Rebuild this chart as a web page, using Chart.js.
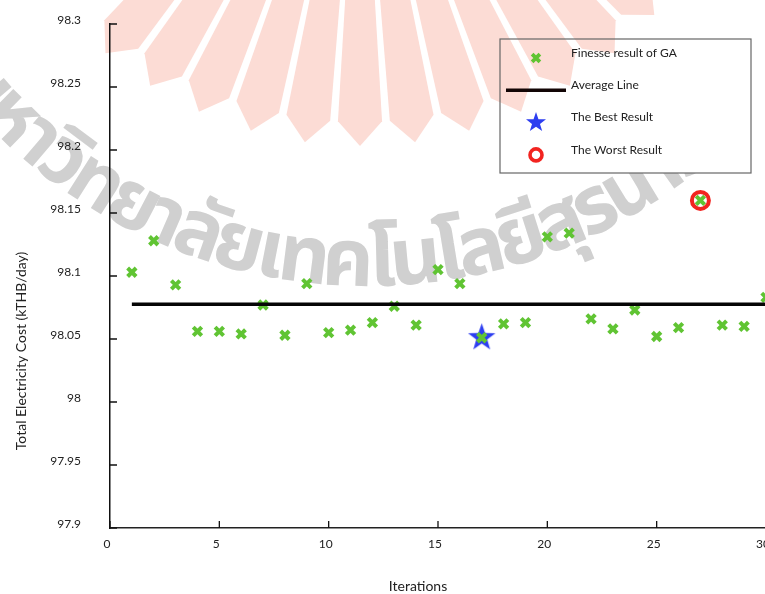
<!DOCTYPE html>
<html lang="en">
  <head>
    <meta charset="UTF-8" />
    <meta name="viewport" content="width=device-width, initial-scale=1.0" />
    <script src="https://cdn.jsdelivr.net/npm/chart.js@4.4.1/dist/chart.umd.min.js"></script>
    <title>GA cost per iteration</title>
    <style>
      html, body { margin: 0; padding: 0; overflow: hidden; background: #fff; }
      canvas { display: block; }
    </style>
  </head>
  <body>
    <canvas id="myChart" width="800" height="594"></canvas>
    <script>
      const iterations = [1, 2, 3, 4, 5, 6, 7, 8, 9, 10, 11, 12, 13, 14, 15,
        16, 17, 18, 19, 20, 21, 22, 23, 24, 25, 26, 27, 28, 29, 30];
      const costGA = [98.103, 98.128, 98.093, 98.056, 98.056, 98.054, 98.077, 98.053, 98.094, 98.055,
        98.057, 98.063, 98.076, 98.061, 98.105, 98.094, 98.051, 98.062, 98.063, 98.131,
        98.134, 98.066, 98.058, 98.073, 98.052, 98.059, 98.160, 98.061, 98.060, 98.083];
      const averageCost = 98.0776;
      const xTicks = [0, 5, 10, 15, 20, 25, 30];
      const yTicks = [97.9, 97.95, 98, 98.05, 98.1, 98.15, 98.2, 98.25, 98.3];
      const legendLabels = ["Finesse result of GA", "Average Line", "The Best Result", "The Worst Result"];
      const xTitle = "Iterations";
      const yTitle = "Total Electricity Cost (kTHB/day)";
      const watermarkText = "มหาวิทยาลัยเทคโนโลยีสุรนารี";

      const bestIdx = costGA.indexOf(Math.min(...costGA));
      const worstIdx = costGA.indexOf(Math.max(...costGA));

      const green = "#60c433";
      const blue = "#2d3ef0";
      const red = "#f22420";
      const ink = "#222";

      Chart.defaults.font.family = "Lato";
      Chart.defaults.font.size = 12;
      Chart.defaults.color = ink;

      function starPath(ctx, x, y, outer, inner) {
        ctx.beginPath();
        for (let i = 0; i < 10; i++) {
          const r = i % 2 ? inner : outer;
          const a = -Math.PI / 2 + (i * Math.PI) / 5;
          ctx.lineTo(x + r * Math.cos(a), y + r * Math.sin(a));
        }
        ctx.closePath();
      }

      function makeStar(outer) {
        const c = document.createElement("canvas");
        c.width = c.height = Math.ceil(outer * 2 + 2);
        const g = c.getContext("2d");
        g.fillStyle = blue;
        starPath(g, c.width / 2, c.height / 2, outer, outer * 0.4);
        g.fill();
        return c;
      }

      function drawCross(ctx, x, y, r) {
        const o = r * Math.SQRT1_2;
        ctx.beginPath();
        ctx.moveTo(x - o, y - o); ctx.lineTo(x + o, y + o);
        ctx.moveTo(x - o, y + o); ctx.lineTo(x + o, y - o);
        ctx.stroke();
      }

      // faint logo petals of the watermark
      function drawPetals(ctx) {
        const cx = 360, cy = -250;
        const pt = (r, a) => [cx + r * Math.sin(a), cy + r * Math.cos(a)];
        ctx.save();
        ctx.fillStyle = "#fcdcd5";
        for (let k = 0; k < 12; k++) {
          const a = ((-40 + 8 * k) * Math.PI) / 180;
          const h = (3.4 * Math.PI) / 180;
          const p = [pt(150, a - h), pt(372, a - h), pt(396, a), pt(372, a + h), pt(150, a + h)];
          ctx.beginPath();
          p.forEach(([x, y]) => ctx.lineTo(x, y));
          ctx.closePath();
          ctx.fill();
        }
        ctx.restore();
      }

      function drawWatermark(ctx) {
        const cx = 368, cy = -244, R = 530;
        ctx.save();
        ctx.fillStyle = "#d0d0d0";
        ctx.font = 'bold 80px "Noto Sans Thai", "Noto Sans", sans-serif';
        ctx.textBaseline = "alphabetic";
        const parts = window.Intl && Intl.Segmenter
          ? [...new Intl.Segmenter("th", { granularity: "grapheme" }).segment(watermarkText)].map((s) => s.segment)
          : Array.from(watermarkText);
        const widths = parts.map((s) => ctx.measureText(s).width);
        const total = widths.reduce((a, b) => a + b, 0);
        const span = (93 * Math.PI) / 180;
        const k = (span * R) / total;
        let theta = (-52 * Math.PI) / 180;
        parts.forEach((s, i) => {
          const step = (widths[i] * k) / R;
          const mid = theta + step / 2;
          ctx.save();
          ctx.translate(cx + R * Math.sin(mid), cy + R * Math.cos(mid));
          ctx.rotate(-mid);
          ctx.fillText(s, -widths[i] / 2, 0);
          ctx.restore();
          theta += step;
        });
        ctx.restore();
      }

      const decor = {
        id: "decor",
        beforeDraw(chart) {
          const ctx = chart.ctx;
          ctx.save();
          ctx.fillStyle = "#fff";
          ctx.fillRect(0, 0, chart.width, chart.height);
          ctx.restore();
          drawPetals(ctx);
          drawWatermark(ctx);
        },
        afterDraw(chart) {
          const ctx = chart.ctx;
          const { left, top, right, bottom } = chart.chartArea;
          const xs = chart.scales.x, ys = chart.scales.y;

          // tick marks point into the plot
          ctx.save();
          ctx.strokeStyle = "#111";
          ctx.lineWidth = 1.3;
          ctx.beginPath();
          ys.ticks.forEach((t) => {
            const py = ys.getPixelForValue(t.value);
            ctx.moveTo(left, py); ctx.lineTo(left + 7, py);
          });
          xs.ticks.forEach((t) => {
            const px = xs.getPixelForValue(t.value);
            ctx.moveTo(px, bottom); ctx.lineTo(px, bottom - 7);
          });
          ctx.stroke();

          // axis titles
          ctx.fillStyle = ink;
          ctx.font = "14px Lato";
          ctx.textAlign = "center";
          ctx.textBaseline = "middle";
          ctx.fillText(xTitle, left + 308, bottom + 58);
          ctx.translate(21, top + 327);
          ctx.rotate(-Math.PI / 2);
          ctx.fillText(yTitle, 0, 0);
          ctx.restore();

          // legend box
          const lg = { x: right - 266, y: top + 15, w: 251, h: 134 };
          ctx.save();
          ctx.fillStyle = "#fff";
          ctx.fillRect(lg.x, lg.y, lg.w, lg.h);
          ctx.beginPath();
          ctx.rect(lg.x, lg.y, lg.w, lg.h);
          ctx.clip();
          drawPetals(ctx);
          ctx.restore();

          ctx.save();
          ctx.strokeStyle = "#666";
          ctx.lineWidth = 1.2;
          ctx.strokeRect(lg.x, lg.y, lg.w, lg.h);
          ctx.font = "12px Lato";
          ctx.textBaseline = "middle";
          const mx = lg.x + 36;
          legendLabels.forEach((label, i) => {
            const ty = lg.y + 14 + i * 32.3;
            const my = ty + 5;
            ctx.fillStyle = ink;
            ctx.fillText(label, lg.x + 71, ty);
            if (i === 0) {
              ctx.strokeStyle = green; ctx.lineWidth = 3.8;
              drawCross(ctx, mx, my, 5.5);
            } else if (i === 1) {
              ctx.strokeStyle = "#120505"; ctx.lineWidth = 3.6;
              ctx.beginPath(); ctx.moveTo(lg.x + 6, my); ctx.lineTo(lg.x + 66, my); ctx.stroke();
            } else if (i === 2) {
              ctx.fillStyle = blue;
              starPath(ctx, mx, my, 10.5, 4.2);
              ctx.fill();
            } else {
              ctx.strokeStyle = red; ctx.lineWidth = 3.6;
              ctx.beginPath(); ctx.arc(mx, my, 6, 0, Math.PI * 2); ctx.stroke();
            }
          });
          ctx.restore();
        },
      };

      const ctx = document.getElementById("myChart").getContext("2d");
      const myChart = new Chart(ctx, {
        type: "scatter",
        data: {
          datasets: [
            {
              label: legendLabels[1],
              type: "line",
              data: [
                { x: iterations[0], y: averageCost },
                { x: iterations[iterations.length - 1], y: averageCost },
              ],
              borderColor: "#050505",
              borderWidth: 3.6,
              pointRadius: 0,
              clip: false,
            },
            {
              label: legendLabels[0],
              data: iterations.map((x, i) => ({ x, y: costGA[i] })),
              pointStyle: "crossRot",
              pointRadius: 6,
              borderColor: green,
              backgroundColor: green,
              borderWidth: 4,
              clip: false,
            },
            {
              label: legendLabels[2],
              data: [{ x: iterations[bestIdx], y: costGA[bestIdx] }],
              pointStyle: makeStar(14.4),
              pointRadius: 14,
              clip: false,
            },
            {
              label: legendLabels[3],
              data: [{ x: iterations[worstIdx], y: costGA[worstIdx] }],
              pointStyle: "circle",
              pointRadius: 8.5,
              borderColor: red,
              backgroundColor: "rgba(0,0,0,0)",
              borderWidth: 4,
              clip: false,
            },
          ],
        },
        options: {
          responsive: false,
          devicePixelRatio: 1,
          animation: false,
          layout: { padding: { top: 24, right: 34, bottom: 0, left: 0 } },
          plugins: { legend: { display: false }, tooltip: { enabled: false } },
          scales: {
            x: {
              min: 0,
              max: 30,
              afterBuildTicks: (s) => { s.ticks = xTicks.map((v) => ({ value: v })); },
              afterFit: (s) => { s.height = 66; },
              grid: { display: false, drawTicks: false },
              border: { display: true, color: "#222", width: 1.5 },
              ticks: { padding: 9, labelOffset: -3, color: ink },
            },
            y: {
              min: 97.9,
              max: 98.3,
              afterBuildTicks: (s) => { s.ticks = yTicks.map((v) => ({ value: v })); },
              afterFit: (s) => { s.width = 110; s.paddingTop = 0; s.paddingBottom = 0; },
              grid: { display: false, drawTicks: false },
              border: { display: true, color: "#111", width: 1.5 },
              ticks: {
                padding: 29,
                labelOffset: -4,
                color: ink,
                callback: (v) => String(Number(v.toFixed(2))),
              },
            },
          },
        },
        plugins: [decor],
      });
    </script>
  </body>
</html>
